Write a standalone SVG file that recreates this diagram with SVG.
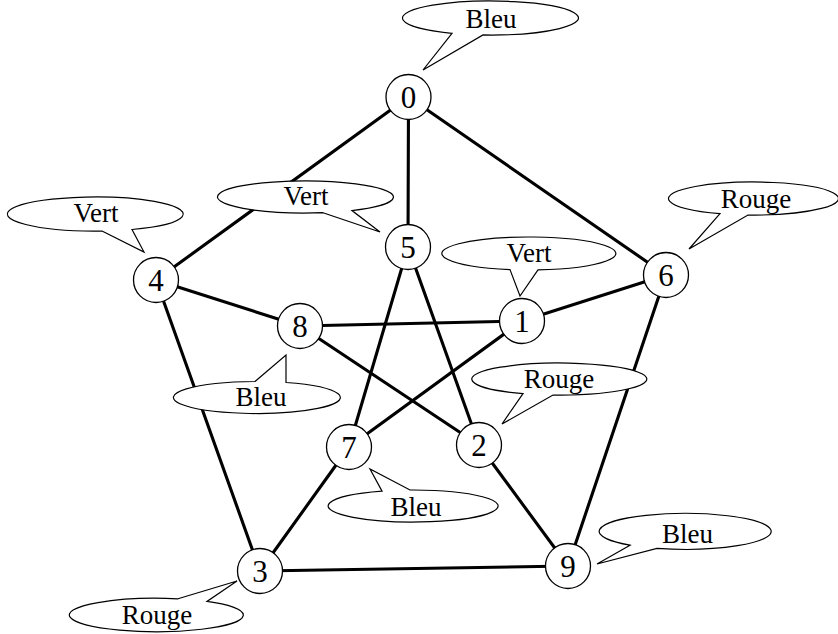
<svg xmlns="http://www.w3.org/2000/svg" width="838" height="634" viewBox="0 0 838 634">
<style>
.edge{stroke:#000;stroke-width:3.1;fill:none;stroke-linecap:round}
.node circle{fill:#fff;stroke:#000;stroke-width:1.3}
.node text{font-family:"Liberation Serif","DejaVu Serif",serif;font-size:31px;text-anchor:middle;fill:#000}
.callout path{fill:#fff;stroke:#000;stroke-width:1.2;stroke-linejoin:miter}
.callout text{font-family:"Liberation Serif","DejaVu Serif",serif;font-size:27px;text-anchor:middle;fill:#000}
</style>
<rect width="838" height="634" fill="#fff"/>
<g id="connectors">
<line class="edge" x1="408.5" y1="97" x2="156" y2="280"/>
<line class="edge" x1="408.5" y1="97" x2="408" y2="247"/>
<line class="edge" x1="408.5" y1="97" x2="666" y2="275"/>
<line class="edge" x1="156" y1="280" x2="300" y2="326"/>
<line class="edge" x1="156" y1="280" x2="260" y2="571"/>
<line class="edge" x1="408" y1="247" x2="349" y2="447"/>
<line class="edge" x1="408" y1="247" x2="479" y2="445"/>
<line class="edge" x1="300" y1="326" x2="522" y2="321"/>
<line class="edge" x1="300" y1="326" x2="479" y2="445"/>
<line class="edge" x1="522" y1="321" x2="666" y2="275"/>
<line class="edge" x1="522" y1="321" x2="349" y2="447"/>
<line class="edge" x1="666" y1="275" x2="568" y2="566"/>
<line class="edge" x1="349" y1="447" x2="260" y2="571"/>
<line class="edge" x1="479" y1="445" x2="568" y2="566"/>
<line class="edge" x1="260" y1="571" x2="568" y2="566"/>
</g>
<g id="node0" class="node"><circle cx="408.5" cy="97" r="22.5"/><text x="408.5" y="108">0</text></g>
<g id="node1" class="node"><circle cx="522" cy="321" r="22.5"/><text x="522" y="332">1</text></g>
<g id="node2" class="node"><circle cx="479" cy="445" r="22.5"/><text x="479" y="456">2</text></g>
<g id="node3" class="node"><circle cx="260" cy="571" r="22.5"/><text x="260" y="582">3</text></g>
<g id="node4" class="node"><circle cx="156" cy="280" r="22.5"/><text x="156" y="291">4</text></g>
<g id="node5" class="node"><circle cx="408" cy="247" r="22.5"/><text x="408" y="258">5</text></g>
<g id="node6" class="node"><circle cx="666" cy="275" r="22.5"/><text x="666" y="286">6</text></g>
<g id="node7" class="node"><circle cx="349" cy="447" r="22.5"/><text x="349" y="458">7</text></g>
<g id="node8" class="node"><circle cx="300" cy="326" r="22.5"/><text x="300" y="337">8</text></g>
<g id="node9" class="node"><circle cx="568" cy="566" r="22.5"/><text x="568" y="577">9</text></g>
<g id="label0" class="callout"><path d="M452,33.3 L423,70 L483,34.95 A88 17 0 1 0 452,33.3 Z"/><text x="491" y="28">Bleu</text></g>
<g id="label4" class="callout"><path d="M102,231 L144,252 L132,229.5 A88 17 0 1 0 102,231 Z"/><text x="96" y="221.5">Vert</text></g>
<g id="label5" class="callout"><path d="M323,212.7 L380,232 L352,210.6 A88 16 0 1 0 323,212.7 Z"/><text x="306" y="204.5">Vert</text></g>
<g id="label1" class="callout"><path d="M510,269.6 L520,296 L538,269.9 A87 16.5 0 1 0 510,269.6 Z"/><text x="529" y="261.5">Vert</text></g>
<g id="label6" class="callout"><path d="M720,213.7 L689,249 L748,215 A85 16.5 0 1 0 720,213.7 Z"/><text x="756" y="207.5">Rouge</text></g>
<g id="label8" class="callout"><path d="M255,381.5 L286,355 L286,382.5 A83.5 16 0 1 1 255,381.5 Z"/><text x="261" y="405.5">Bleu</text></g>
<g id="label7" class="callout"><path d="M382,491.1 L370,469 L410,490 A85 16 0 1 1 382,491.1 Z"/><text x="416" y="516">Bleu</text></g>
<g id="label2" class="callout"><path d="M523,393.6 L502,424 L553,395 A87.5 16 0 1 0 523,393.6 Z"/><text x="559" y="387.5">Rouge</text></g>
<g id="label3" class="callout"><path d="M178,598.8 L237,581 L207,601.4 A87 16.7 0 1 1 178,598.8 Z"/><text x="157" y="624">Rouge</text></g>
<g id="label9" class="callout"><path d="M630,545.2 L597,564 L657,548.4 A86 18 0 1 0 630,545.2 Z"/><text x="687.5" y="542.5">Bleu</text></g>
</svg>
